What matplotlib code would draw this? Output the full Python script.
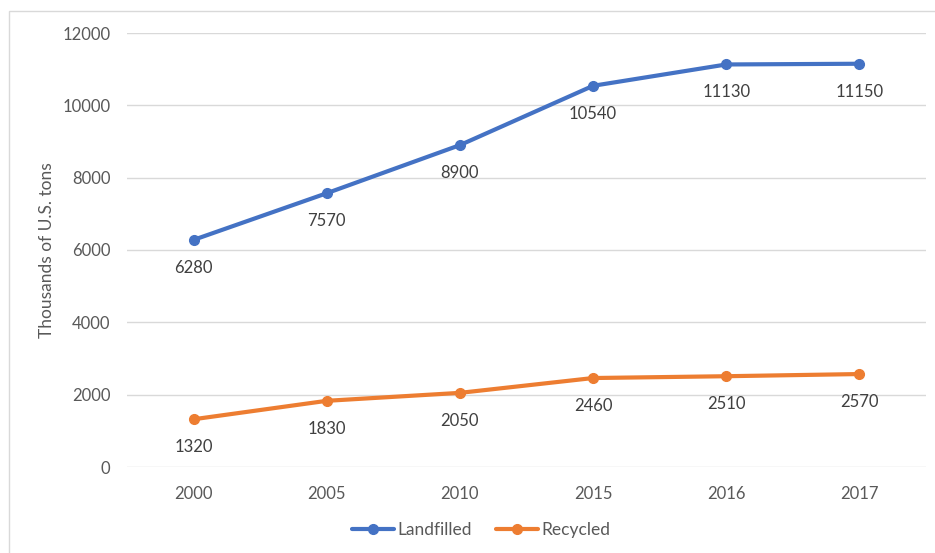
import matplotlib.pyplot as plt
from matplotlib.patches import Rectangle

plt.rcParams['font.family'] = ['Lato', 'DejaVu Sans']

years = ['2000', '2005', '2010', '2015', '2016', '2017']
landfilled = [6280, 7570, 8900, 10540, 11130, 11150]
recycled = [1320, 1830, 2050, 2460, 2510, 2570]

blue = '#4472C4'
orange = '#ED7D31'
txt = '#404040'

fig = plt.figure(figsize=(9.35, 5.53), dpi=100)
# chart area frame (like excel)
fig.patches.append(Rectangle((9/935, -0.1), 1.2, 1 - 11/553 + 0.1, transform=fig.transFigure,
                             fill=False, ec='#d9d9d9', lw=1))
ax = fig.add_axes([127/935, 1 - 467/553, (926 - 127)/935, (467 - 33)/553])

x = range(len(years))
ax.plot(x, landfilled, color=blue, lw=3, marker='o', ms=7, label='Landfilled', solid_capstyle='round')
ax.plot(x, recycled, color=orange, lw=3, marker='o', ms=7, label='Recycled', solid_capstyle='round')

for i in x:
    ax.annotate(str(landfilled[i]), (i, landfilled[i]), xytext=(0, -20), textcoords='offset points',
                ha='center', va='center', fontsize=12, color=txt)
    ax.annotate(str(recycled[i]), (i, recycled[i]), xytext=(0, -20), textcoords='offset points',
                ha='center', va='center', fontsize=12, color=txt)

ax.set_xlim(-0.5, len(years) - 0.5)
ax.set_ylim(0, 12000)
ax.set_yticks(range(0, 12001, 2000))
ax.set_xticks(list(x))
ax.set_xticklabels(years)
ax.tick_params(length=0, labelsize=12, labelcolor='#595959')
ax.tick_params(axis='y', pad=12)
ax.tick_params(axis='x', pad=14)
ax.grid(axis='y', color='#d9d9d9', lw=1)
ax.set_axisbelow(True)
for s in ax.spines.values():
    s.set_visible(False)
ax.set_ylabel('Thousands of U.S. tons', fontsize=12.5, color='#595959', labelpad=5)

ax.legend(loc='center', bbox_to_anchor=(481/935, 1 - 530/553), bbox_transform=fig.transFigure,
          ncol=2, frameon=False, fontsize=12.5, labelcolor='#595959', handlelength=2.4,
          handletextpad=0.2, columnspacing=1.4)

fig.savefig('out.png', dpi=100, facecolor='white')
